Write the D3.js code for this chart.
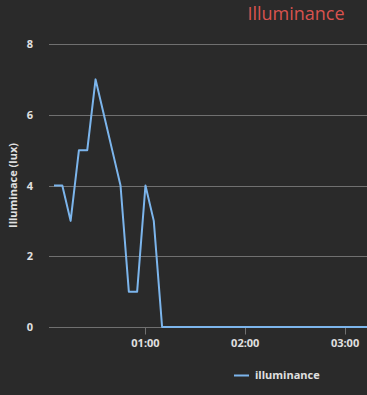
<!DOCTYPE html>
<html><head><meta charset="utf-8">
<script src="https://cdn.jsdelivr.net/npm/d3@7"></script>
<style>html,body{margin:0;padding:0;background:#2a2a2a;}svg{display:block;}</style>
</head><body>
<script>
const times = ["00:05","00:10","00:15","00:20","00:25","00:30","00:35","00:40","00:45","00:50","00:55","01:00","01:05","01:10","01:15","01:20","01:25","01:30","01:35","01:40","01:45","01:50","01:55","02:00","02:05","02:10","02:15","02:20","02:25","02:30","02:35","02:40","02:45","02:50","02:55","03:00","03:05","03:10","03:15"];
const values = [4,4,3,5,5,7,6,5,4,1,1,4,3,0,0,0,0,0,0,0,0,0,0,0,0,0,0,0,0,0,0,0,0,0,0,0,0,0,0];
const yTicks = [0,2,4,6,8];
const xTickLabels = ["01:00","02:00","03:00"];
const seriesName = "illuminance";

(function(){
const W = 367, H = 395;
const parse = d3.timeParse("%H:%M");
const data = times.map((t,i)=>({t:parse(t), v:values[i]}));
const svg = d3.select("body").append("svg").attr("width",W).attr("height",H);
svg.append("rect").attr("width",W).attr("height",H).attr("fill","#2a2a2a");

const mL=49, mR=367, mT=44, mB=327;
const x = d3.scaleTime().domain([parse("00:02"), d3.timeParse("%H:%M:%S")("03:13:12")]).range([mL,mR]);
const y = d3.scaleLinear().domain([0,8]).range([mB,mT]);

svg.append("g").selectAll("line").data(yTicks.filter(d=>d>0)).join("line")
  .attr("x1",mL).attr("x2",mR).attr("y1",d=>Math.round(y(d))+0.5).attr("y2",d=>Math.round(y(d))+0.5)
  .attr("stroke","#707070").attr("stroke-width",1);
svg.append("g").selectAll("text").data(yTicks).join("text")
  .attr("x",33).attr("y",d=>y(d)+4).attr("text-anchor","end")
  .attr("font-family","Open Sans, sans-serif").attr("font-size",11).attr("font-weight","bold")
  .attr("fill","#e0e0e0").text(d=>d);

const xg = svg.append("g").attr("transform",`translate(0,${mB+0.5})`);
xg.append("line").attr("x1",mL).attr("x2",mR).attr("stroke","#707070");
const xt = xTickLabels.map(parse);
xg.selectAll("line.t").data(xt).join("line").attr("class","t")
  .attr("x1",d=>Math.round(x(d))+0.5).attr("x2",d=>Math.round(x(d))+0.5).attr("y1",0).attr("y2",7)
  .attr("stroke","#707070");
xg.selectAll("text").data(xt).join("text")
  .attr("x",d=>x(d)).attr("y",19).attr("text-anchor","middle")
  .attr("font-family","Open Sans, sans-serif").attr("font-size",11).attr("font-weight","bold")
  .attr("fill","#e0e0e0").text(d=>d3.timeFormat("%H:%M")(d));

svg.append("clipPath").attr("id","c").append("rect").attr("x",mL).attr("y",0).attr("width",mR-mL).attr("height",mB+5);
svg.append("path").datum(data).attr("clip-path","url(#c)")
  .attr("d",d3.line().x(d=>x(d.t)).y(d=>y(d.v)))
  .attr("fill","none").attr("stroke","#7cb5ec").attr("stroke-width",2).attr("stroke-linejoin","round");

svg.append("text").attr("x",296).attr("y",20).attr("text-anchor","middle")
  .attr("font-family","Open Sans, sans-serif").attr("font-size",18).attr("fill","#d9534f").text("Illuminance");

svg.append("text").attr("transform",`translate(17,${(mT+mB)/2}) rotate(-90)`).attr("text-anchor","middle")
  .attr("font-family","Open Sans, sans-serif").attr("font-size",11).attr("font-weight","bold")
  .attr("fill","#e0e0e0").text("Illuminace (lux)");

svg.append("line").attr("x1",234).attr("x2",249).attr("y1",375.5).attr("y2",375.5).attr("stroke","#7cb5ec").attr("stroke-width",2);
svg.append("text").attr("x",255).attr("y",379)
  .attr("font-family","Open Sans, sans-serif").attr("font-size",11).attr("font-weight","bold")
  .attr("fill","#e0e0e0").text(seriesName);
})();
</script>
</body></html>
